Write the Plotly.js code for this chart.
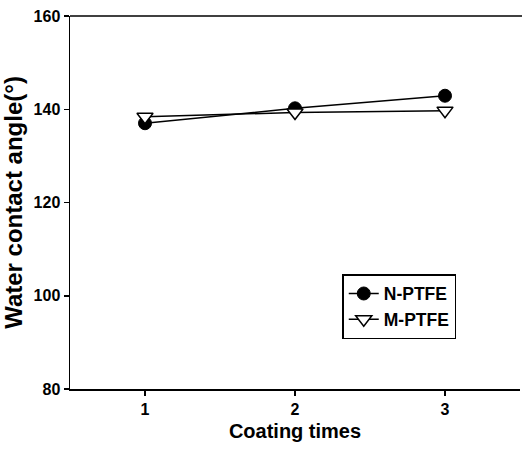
<!DOCTYPE html>
<html>
<head>
<meta charset="utf-8">
<script src="https://cdn.plot.ly/plotly-3.0.1.min.js"></script>
<style>html,body{margin:0;padding:0;background:#fff;overflow:hidden;}#chart{width:522px;height:451px;}</style>
</head>
<body>
<div id="chart"></div>
<script>
const coatingTimes = [1, 2, 3];
const nPTFE = [137.0, 140.2, 142.9];
const mPTFE = [138.4, 139.3, 139.7];
const seriesNames = ["N-PTFE", "M-PTFE"];
const yTicks = [80, 100, 120, 140, 160];
const xTicks = [1, 2, 3];

const FONT = "Liberation Sans, Arial, sans-serif";

const traces = [
  {
    x: coatingTimes, y: nPTFE, name: seriesNames[0], type: "scatter", mode: "lines+markers",
    line: {color: "#000", width: 1.5},
    marker: {symbol: "circle", size: 13, color: "#000", line: {color: "#000", width: 1}}
  },
  {
    x: coatingTimes, y: mPTFE, name: seriesNames[1], type: "scatter", mode: "lines+markers",
    line: {color: "#000", width: 1.5},
    marker: {symbol: "triangle-down", size: 14, color: "#fff", line: {color: "#000", width: 1.5}}
  }
];

const layout = {
  width: 522, height: 451,
  margin: {l: 70, r: 2, t: 16, b: 62},
  paper_bgcolor: "#fff", plot_bgcolor: "#fff",
  font: {family: FONT, color: "#000", size: 16, weight: "bold"},
  showlegend: true,
  legend: {
    x: 0.605, y: 0.308, xanchor: "left", yanchor: "top",
    bordercolor: "#000", borderwidth: 1.5, bgcolor: "#fff",
    font: {family: FONT, size: 17.5, color: "#000", weight: "bold"},
    itemwidth: 30
  },
  shapes: [
    {type: "line", xref: "paper", yref: "paper", x0: 0, x1: 1.01, y0: 1, y1: 1, line: {color: "#000", width: 1.5}}
  ],
  xaxis: {
    range: [0.5, 3.5], tickvals: xTicks, ticktext: xTicks.map(String),
    showgrid: false, zeroline: false,
    showline: true, linecolor: "#000", linewidth: 1.5, mirror: false,
    ticks: "outside", ticklen: 5, tickwidth: 1.5, tickcolor: "#000",
    tickfont: {family: FONT, size: 16, color: "#000", weight: "bold"},
    title: {text: "Coating times", font: {family: FONT, size: 20, color: "#000", weight: "bold"}, standoff: 7}
  },
  yaxis: {
    range: [80, 160], tickvals: yTicks, ticktext: yTicks.map(String),
    showgrid: false, zeroline: false,
    showline: true, linecolor: "#000", linewidth: 1.5, mirror: false,
    ticks: "outside", ticklen: 5, tickwidth: 1.5, tickcolor: "#000",
    tickfont: {family: FONT, size: 16, color: "#000", weight: "bold"},
    title: {text: "Water contact angle(°)", font: {family: FONT, size: 24, color: "#000", weight: "bold"}, standoff: 8}
  }
};

Plotly.newPlot("chart", traces, layout, {displayModeBar: false, staticPlot: true});
</script>
</body>
</html>
